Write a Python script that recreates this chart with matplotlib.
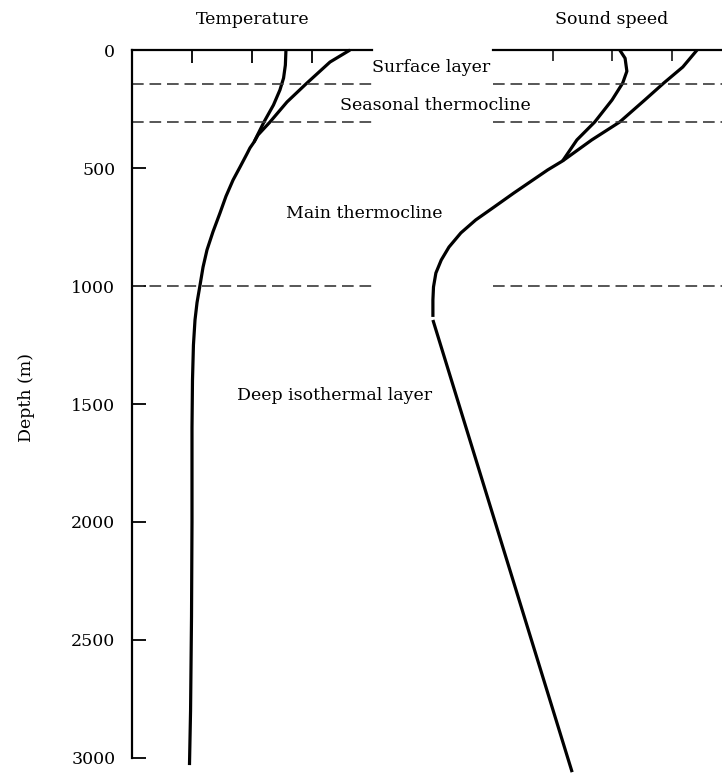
import matplotlib
matplotlib.use("Agg")
import matplotlib.pyplot as plt

# ---------------- data ----------------
# Temperature profiles (deg C, arbitrary scale: ticks every 5)
temp_summer_depth = [0, 51, 140, 220, 305, 360, 390, 415, 440, 496, 551, 620, 691, 770,
                     847, 920, 996, 1070, 1144, 1250, 1400, 1600, 2000, 2400, 2800, 3030]
temp_summer = [18.17, 16.5, 14.58, 12.92, 11.5, 10.5, 10.17, 9.83, 9.58, 9.0, 8.42, 7.83,
               7.33, 6.75, 6.25, 5.92, 5.67, 5.42, 5.25, 5.12, 5.04, 5.0, 5.0, 4.96,
               4.88, 4.79]
temp_winter_depth = [0, 64, 119, 169, 233, 305, 360, 390]
temp_winter = [12.83, 12.78, 12.63, 12.33, 11.79, 11.0, 10.46, 10.17]

# Sound-speed profiles (m/s, arbitrary scale: ticks every 10)
ss_summer_depth = [0, 72, 140, 212, 305, 381, 470, 508, 551, 606, 665, 720, 775, 835,
                   890, 945, 1004, 1059, 1131]
ss_summer = [1524.3, 1521.9, 1518.7, 1515.5, 1511.3, 1506.6, 1501.7, 1499.2, 1496.7,
             1493.5, 1490.2, 1487.1, 1484.6, 1482.6, 1481.3, 1480.4, 1480.0, 1479.9,
             1479.9]
ss_winter_depth = [0, 35, 90, 140, 212, 305, 381, 470]
ss_winter = [1511.3, 1512.2, 1512.5, 1511.8, 1510.0, 1507.1, 1504.1, 1501.7]
ss_deep_depth = [1144, 3060]
ss_deep = [1479.9, 1503.3]

layer_bounds = [145, 303, 1000]
depth_ticks = [0, 500, 1000, 1500, 2000, 2500, 3000]
temp_ticks = [5, 10, 15]
ss_ticks = [1500, 1510, 1520]

# ---------------- figure ----------------
W, H = 722, 774
fig = plt.figure(figsize=(W / 100, H / 100), dpi=100)
plt.rcParams['font.family'] = ['DejaVu Serif']

def fx(p):
    return p / W

def fy(p):
    return 1 - p / H

ax1 = fig.add_axes([fx(132), fy(758), 240 / W, 708 / H])
ax2 = fig.add_axes([fx(374), fy(758), 357 / W, 708 / H])

curve_kw = dict(color='black', lw=2.3, clip_on=False, solid_joinstyle='round',
                solid_capstyle='butt')
dash_kw = dict(color='#3a3a3a', lw=1.2, dashes=(7, 3.5))

# Temperature panel
ax1.plot(temp_summer, temp_summer_depth, **curve_kw)
ax1.plot(temp_winter, temp_winter_depth, **curve_kw)
for d in layer_bounds:
    ax1.plot([0, 20], [d, d], **dash_kw)
ax1.set_xlim(0, 20)
ax1.set_ylim(3000, 0)
ax1.spines['right'].set_visible(False)
ax1.spines['bottom'].set_visible(False)
ax1.spines['left'].set_linewidth(1.6)
ax1.spines['top'].set_linewidth(1.6)
ax1.xaxis.tick_top()
ax1.set_xticks(temp_ticks)
ax1.set_xticklabels([])
ax1.tick_params(axis='x', direction='in', length=9, width=1.3, top=True, bottom=False)
ax1.set_yticks(depth_ticks)
ax1.set_yticklabels([str(v) for v in depth_ticks], fontsize=12.5)
ax1.tick_params(axis='y', direction='in', length=10, width=1.3, pad=12)
ax1.patch.set_visible(False)

# Sound-speed panel
ax2.plot(ss_summer, ss_summer_depth, **curve_kw)
ax2.plot(ss_winter, ss_winter_depth, **curve_kw)
ax2.plot(ss_deep, ss_deep_depth, **curve_kw)
for d in layer_bounds:
    ax2.plot([1490, 1530], [d, d], **dash_kw)
ax2.set_xlim(1470, 1530)
ax2.set_ylim(3000, 0)
for s in ['left', 'right', 'bottom']:
    ax2.spines[s].set_visible(False)
ax2.spines['top'].set_bounds(1490, 1530)
ax2.spines['top'].set_linewidth(1.6)
ax2.xaxis.tick_top()
ax2.set_xticks(ss_ticks)
ax2.set_xticklabels([])
ax2.tick_params(axis='x', direction='in', length=8, width=1.1, top=True, bottom=False)
ax2.set_yticks([])
ax2.patch.set_visible(False)

# Texts
fs = 12.5
fig.text(fx(253), fy(20), 'Temperature', ha='center', va='center', fontsize=fs)
fig.text(fx(612), fy(20), 'Sound speed', ha='center', va='center', fontsize=fs)
fig.text(fx(431), fy(68), 'Surface layer', ha='center', va='center', fontsize=fs)
fig.text(fx(435), fy(105), 'Seasonal thermocline', ha='center', va='center', fontsize=fs)
fig.text(fx(364), fy(213), 'Main thermocline', ha='center', va='center', fontsize=fs)
fig.text(fx(335), fy(395), 'Deep isothermal layer', ha='center', va='center', fontsize=fs)
fig.text(fx(27), fy(398), 'Depth (m)', ha='center', va='center', rotation=90, fontsize=fs)

fig.savefig('out.png', dpi=100)
